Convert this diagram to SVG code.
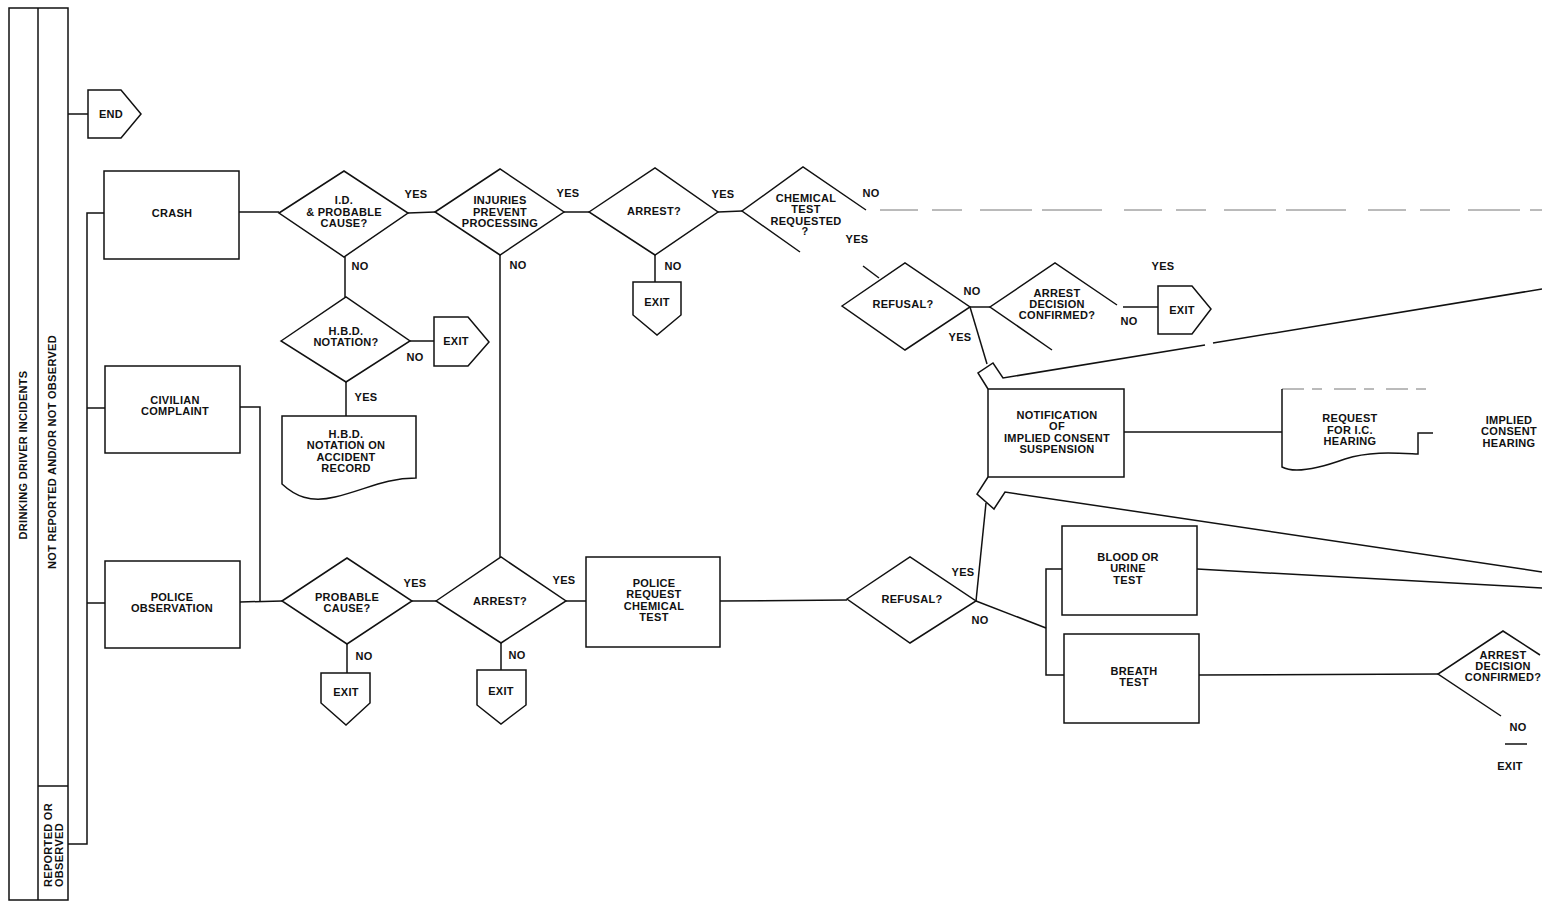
<svg xmlns="http://www.w3.org/2000/svg" width="1542" height="902" viewBox="0 0 1542 902">
<style>
.s{fill:none;stroke:#111;stroke-width:1.5;stroke-linejoin:miter}
.n{fill:#fff;stroke:#111;stroke-width:1.5}
.f{fill:none;stroke:#777;stroke-width:1}
text{font-family:"Liberation Sans",Arial,sans-serif;font-weight:bold;font-size:11px;fill:#111;text-anchor:middle;letter-spacing:0.3px}
.st{text-anchor:start}
</style>
<rect width="1542" height="902" fill="#fff"/>

<g id="sidebar">
<rect class="s" x="9" y="8" width="59" height="892"/>
<line class="s" x1="38" y1="8" x2="38" y2="900"/>
<line class="s" x1="38" y1="786" x2="68" y2="786"/>
<text transform="translate(27,455) rotate(-90)">DRINKING DRIVER INCIDENTS</text>
<text transform="translate(56,452) rotate(-90)">NOT REPORTED AND/OR NOT OBSERVED</text>
<text class="st" transform="translate(52,887) rotate(-90)">REPORTED OR</text>
<text class="st" transform="translate(63,887) rotate(-90)">OBSERVED</text>
</g>

<g id="connectors">
<polyline class="s" points="68,114 88,114"/>
<polyline class="s" points="68,844 87,844 87,213 104,213"/>
<polyline class="s" points="87,408 105,408"/>
<polyline class="s" points="87,603 105,603"/>
<polyline class="s" points="239,212 279,212"/>
<polyline class="s" points="408,213 435,212"/>
<polyline class="s" points="564,212 589,212"/>
<polyline class="s" points="718,212 742,211"/>
<polyline class="s" points="655,255 655,282"/>
<polyline class="s" points="345,257 345,297"/>
<polyline class="s" points="410,341 434,341"/>
<polyline class="s" points="346,382 346,416"/>
<polyline class="s" points="500,255 500,557"/>
<polyline class="s" points="240,407 260,407 260,602"/>
<polyline class="s" points="240,602 282,601"/>
<polyline class="s" points="412,601 436,601"/>
<polyline class="s" points="347,644 347,673"/>
<polyline class="s" points="566,601 586,601"/>
<polyline class="s" points="501,643 501,670"/>
<polyline class="s" points="720,601 847,600"/>
<polyline class="s" points="970,307 990,307"/>
<polyline class="s" points="1123,307 1158,307"/>
<polyline class="s" points="970,307 987,364"/>
<polyline class="s" points="863,266 879,278"/>
<polyline class="s" points="988,389 978,373 993,363 1003,378 1205,345"/>
<polyline class="s" points="1213,343 1542,289"/>
<polyline class="s" points="1124,432 1282,432"/>
<polyline class="s" points="976,601 986,503"/>
<polyline class="s" points="988,477 977,494 994,509 1005,492 1542,572"/>
<polyline class="s" points="976,601 1046,628"/>
<polyline class="s" points="1062,569 1046,569 1046,675 1064,675"/>
<polyline class="s" points="1197,569 1542,588"/>
<polyline class="s" points="1199,675 1438,674"/>
<polyline class="s" points="1505,744 1527,744"/>
<line class="f" x1="880" y1="210" x2="1542" y2="210" stroke-dasharray="38 14 30 18 52 10 60 22"/>
<line class="f" x1="1282" y1="389" x2="1432" y2="389" stroke-dasharray="22 8 10 12"/>
</g>

<g id="end"><path class="n" d="M88,90 H121 L141,114 L121,138 H88 Z"/><text x="111" y="118">END</text></g>

<g id="crash"><rect class="n" x="104" y="171" width="135" height="88"/><text x="172" y="217">CRASH</text></g>
<g id="civilian"><rect class="n" x="105" y="366" width="135" height="87"/><text x="175" y="404">CIVILIAN</text><text x="175" y="415">COMPLAINT</text></g>
<g id="police-obs"><rect class="n" x="105" y="561" width="135" height="87"/><text x="172" y="601">POLICE</text><text x="172" y="612">OBSERVATION</text></g>

<g id="id-cause"><path class="n" d="M279,213 L344,171 L408,213 L344,257 Z"/>
<text x="344" y="204">I.D.</text><text x="344" y="215.5">&amp; PROBABLE</text><text x="344" y="227">CAUSE?</text>
<text x="416" y="198">YES</text><text x="360" y="270">NO</text></g>

<g id="injuries"><path class="n" d="M435,212 L500,169 L564,212 L500,255 Z"/>
<text x="500" y="204">INJURIES</text><text x="500" y="215.5">PREVENT</text><text x="500" y="227">PROCESSING</text>
<text x="568" y="197">YES</text><text x="518" y="269">NO</text></g>

<g id="arrest1"><path class="n" d="M589,212 L655,168 L718,212 L655,255 Z"/>
<text x="654" y="215">ARREST?</text><text x="723" y="198">YES</text><text x="673" y="270">NO</text></g>
<g id="exit-arrest1"><path class="n" d="M633,282 H681 V315 L657,335 L633,315 Z"/><text x="657" y="306">EXIT</text></g>

<g id="chem-test"><path class="s" d="M800,252 L742,211 L803,167 L866,210"/>
<text x="806" y="202">CHEMICAL</text><text x="806" y="213">TEST</text><text x="806" y="225">REQUESTED</text><text x="805" y="235">?</text>
<text x="871" y="197">NO</text><text x="857" y="243">YES</text></g>

<g id="refusal1"><path class="n" d="M842,306 L905,263 L970,307 L905,350 Z"/>
<text x="903" y="308">REFUSAL?</text><text x="972" y="295">NO</text><text x="960" y="341">YES</text></g>

<g id="arrest-confirm1"><path class="s" d="M1052,350 L990,307 L1055,263 L1117,305"/>
<text x="1057" y="297">ARREST</text><text x="1057" y="308">DECISION</text><text x="1057" y="319">CONFIRMED?</text>
<text x="1129" y="325">NO</text><text x="1163" y="270">YES</text></g>
<g id="exit-confirm1"><path class="n" d="M1158,286 H1192 L1211,309 L1192,334 H1158 Z"/><text x="1182" y="314">EXIT</text></g>

<g id="hbd"><path class="n" d="M281,341 L346,297 L410,341 L346,382 Z"/>
<text x="346" y="335">H.B.D.</text><text x="346" y="346">NOTATION?</text>
<text x="415" y="361">NO</text><text x="366" y="401">YES</text></g>
<g id="exit-hbd"><path class="n" d="M434,317 H468 L489,342 L468,366 H434 Z"/><text x="456" y="345">EXIT</text></g>

<g id="hbd-record"><path class="n" d="M282,416 H416 V478 C385,478 365,490 335,497 C310,503 295,496 282,484 Z"/>
<text x="346" y="438">H.B.D.</text><text x="346" y="449">NOTATION ON</text><text x="346" y="461">ACCIDENT</text><text x="346" y="472">RECORD</text></g>

<g id="probable"><path class="n" d="M282,601 L347,558 L412,601 L347,644 Z"/>
<text x="347" y="601">PROBABLE</text><text x="347" y="612">CAUSE?</text>
<text x="415" y="587">YES</text><text x="364" y="660">NO</text></g>
<g id="exit-probable"><path class="n" d="M321,673 H370 V703 L346,725 L321,703 Z"/><text x="346" y="696">EXIT</text></g>

<g id="arrest2"><path class="n" d="M436,601 L501,557 L566,601 L501,643 Z"/>
<text x="500" y="605">ARREST?</text><text x="564" y="584">YES</text><text x="517" y="659">NO</text></g>
<g id="exit-arrest2"><path class="n" d="M477,670 H526 V705 L501,724 L477,705 Z"/><text x="501" y="695">EXIT</text></g>

<g id="police-request"><rect class="n" x="586" y="557" width="134" height="90"/>
<text x="654" y="587">POLICE</text><text x="654" y="598">REQUEST</text><text x="654" y="610">CHEMICAL</text><text x="654" y="621">TEST</text></g>

<g id="refusal2"><path class="n" d="M847,599 L910,557 L976,601 L910,643 Z"/>
<text x="912" y="603">REFUSAL?</text><text x="963" y="576">YES</text><text x="980" y="624">NO</text></g>

<g id="notification"><rect class="n" x="988" y="389" width="136" height="88"/>
<text x="1057" y="419">NOTIFICATION</text><text x="1057" y="430">OF</text><text x="1057" y="442">IMPLIED CONSENT</text><text x="1057" y="453">SUSPENSION</text></g>

<g id="request-hearing"><path class="s" d="M1282,389 V467 C1295,474 1320,468 1345,459 C1370,451 1395,453 1418,454 V433 H1433"/>
<text x="1350" y="422">REQUEST</text><text x="1350" y="434">FOR I.C.</text><text x="1350" y="445">HEARING</text></g>

<g id="ic-hearing"><text x="1509" y="424">IMPLIED</text><text x="1509" y="435">CONSENT</text><text x="1509" y="447">HEARING</text></g>

<g id="blood"><rect class="n" x="1062" y="526" width="135" height="89"/>
<text x="1128" y="561">BLOOD OR</text><text x="1128" y="572">URINE</text><text x="1128" y="584">TEST</text></g>
<g id="breath"><rect class="n" x="1064" y="634" width="135" height="89"/>
<text x="1134" y="675">BREATH</text><text x="1134" y="686">TEST</text></g>

<g id="arrest-confirm2"><path class="s" d="M1501,716 L1438,674 L1503,631 L1540,655"/>
<text x="1503" y="659">ARREST</text><text x="1503" y="670">DECISION</text><text x="1503" y="681">CONFIRMED?</text>
<text x="1518" y="731">NO</text><text x="1510" y="770">EXIT</text></g>
</svg>
